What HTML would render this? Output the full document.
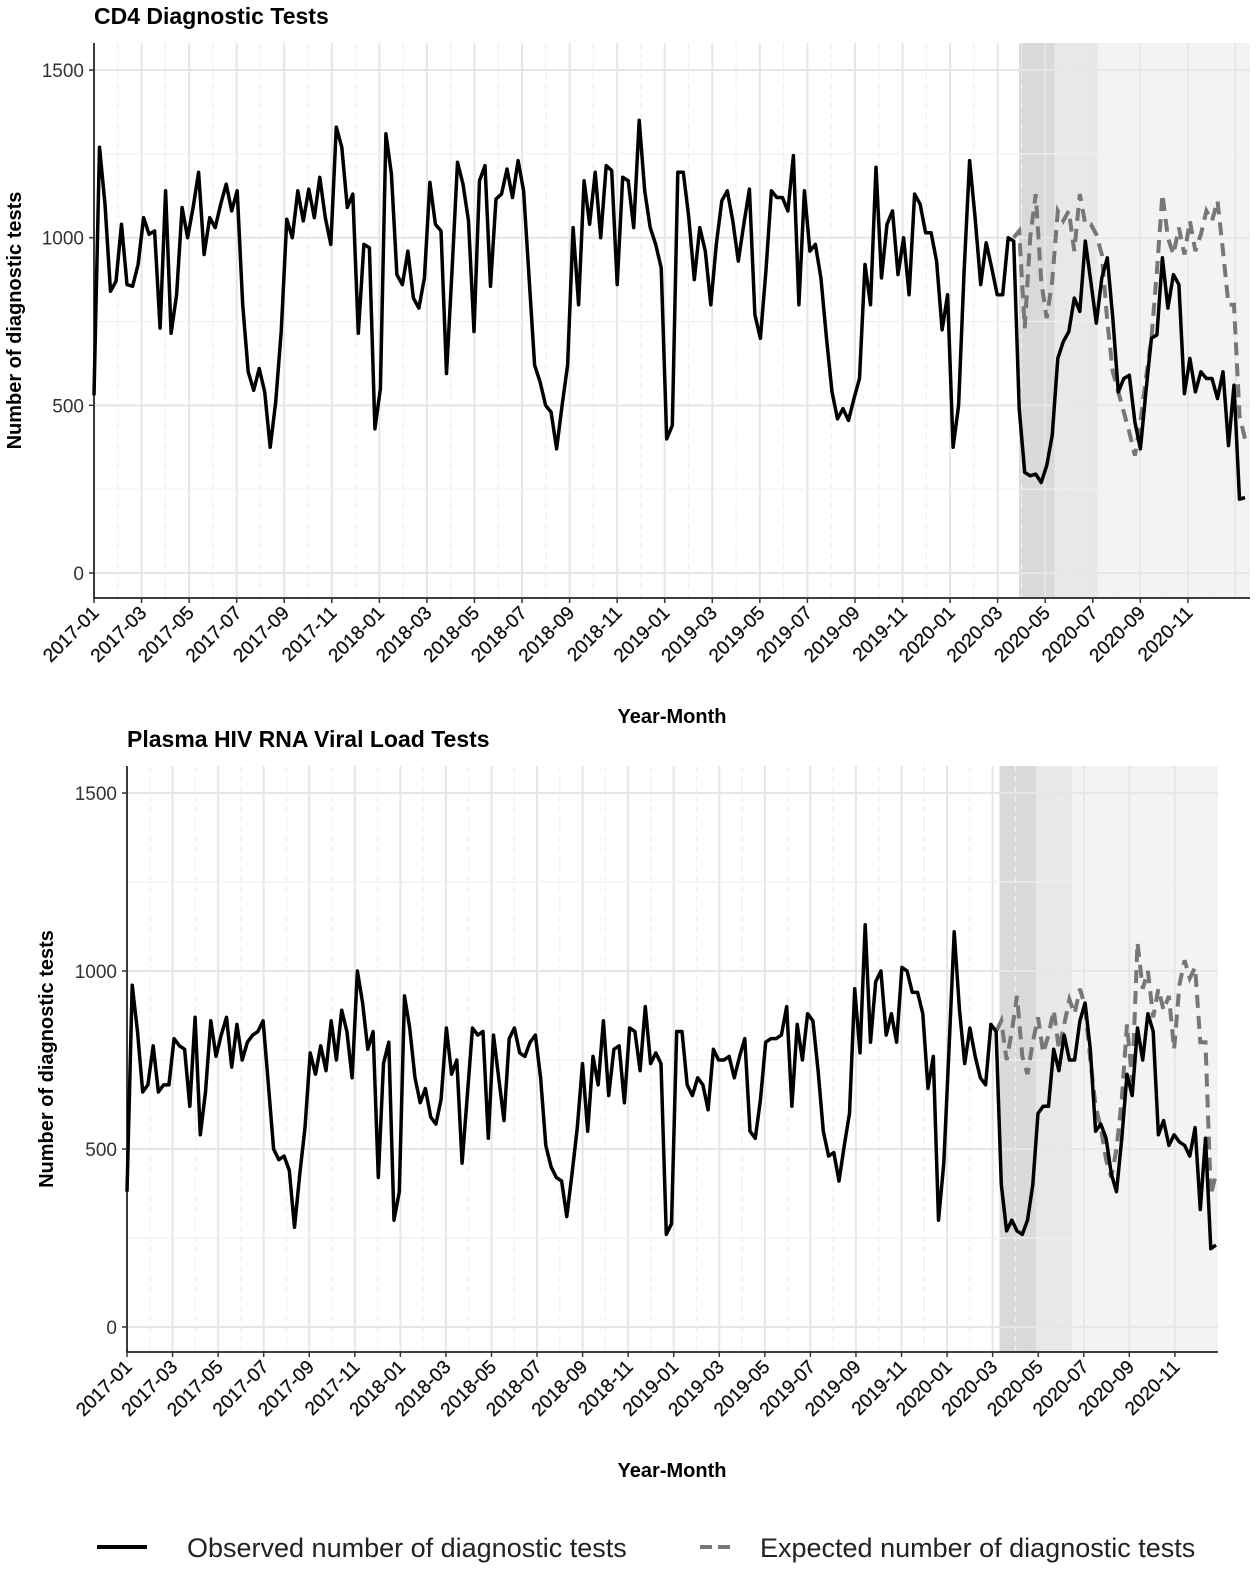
<!DOCTYPE html>
<html><head><meta charset="utf-8">
<style>
html,body{margin:0;padding:0;background:#fff;}
svg{display:block;font-family:"Liberation Sans",Arial,sans-serif;}
</style></head>
<body>
<svg id="chart" width="1258" height="1571" viewBox="0 0 1258 1571" xmlns="http://www.w3.org/2000/svg">
<g>
<line x1="97" y1="1547" x2="147" y2="1547" stroke="#000" stroke-width="4"/>
<text x="187" y="1557" font-size="27" fill="#222">Observed number of diagnostic tests</text>
<line x1="700" y1="1547" x2="730" y2="1547" stroke="#777" stroke-width="4" stroke-dasharray="12,6"/>
<text x="760" y="1557" font-size="27" fill="#222">Expected number of diagnostic tests</text>
</g>
</svg>
<script>
// ---- CD4 data (weekly) ----
const cd4Observed = [530,1270,1100,840,870,1040,860,855,920,1060,1010,1020,730,1140,715,830,1090,1000,1090,1195,950,1060,1030,1100,1160,1080,1140,800,600,545,610,540,375,510,720,1055,1000,1140,1050,1145,1060,1180,1060,980,1330,1270,1090,1130,715,980,970,430,550,1310,1190,890,860,960,820,790,880,1165,1040,1020,595,900,1225,1160,1050,720,1170,1215,855,1115,1130,1205,1120,1230,1140,880,620,570,500,480,370,500,620,1030,800,1170,1040,1195,1000,1215,1200,860,1180,1170,1030,1350,1140,1030,980,910,400,440,1195,1195,1060,875,1030,960,800,980,1110,1140,1050,930,1040,1145,770,700,900,1140,1120,1120,1080,1245,800,1140,960,980,880,700,540,460,490,455,520,580,920,800,1210,880,1040,1080,890,1000,830,1130,1100,1015,1015,930,725,830,375,500,900,1230,1060,860,985,910,830,830,1000,990,490,300,290,295,270,320,410,640,690,720,820,780,990,870,745,880,940,760,540,580,590,450,370,540,700,710,940,790,890,860,535,640,540,600,580,580,520,600,380,560,220,225];
const cd4Expected = [1000,1020,730,1000,1130,870,760,870,1080,1050,1080,960,1130,1040,1040,1010,950,750,600,540,480,420,350,450,580,700,900,1130,1000,950,1030,950,1050,960,1010,1080,1050,1110,960,800,800,470,400];
// ---- Viral load data (weekly) ----
const vlObserved = [380,960,830,660,680,790,660,680,680,810,790,780,620,870,540,660,860,760,820,870,730,850,750,800,820,830,860,680,500,470,480,440,280,430,560,770,710,790,720,860,750,890,830,700,1000,910,780,830,420,740,800,300,380,930,840,700,630,670,590,570,640,840,710,750,460,650,840,820,830,530,820,700,580,810,840,770,760,800,820,700,510,450,420,410,310,430,560,740,550,760,680,860,650,780,790,630,840,830,720,900,740,770,740,260,290,830,830,680,650,700,680,610,780,750,750,760,700,760,810,550,530,640,800,810,810,820,900,620,850,750,880,860,720,550,480,490,410,510,600,950,770,1130,800,970,1000,820,880,800,1010,1000,940,940,880,670,760,300,460,780,1110,890,740,840,760,700,680,850,830,400,270,300,270,260,300,400,600,620,620,780,720,820,750,750,860,910,780,550,570,530,430,380,530,710,650,840,750,880,830,540,580,510,540,520,510,480,560,330,530,220,230];
const vlExpected = [830,860,750,830,930,760,710,800,870,770,820,890,780,850,920,880,950,900,750,620,560,470,420,500,640,850,690,1080,950,1000,870,950,890,930,780,960,1030,980,1010,800,800,370,430];
const monthTickLabels = ["2017-01","2017-03","2017-05","2017-07","2017-09","2017-11","2018-01","2018-03","2018-05","2018-07","2018-09","2018-11","2019-01","2019-03","2019-05","2019-07","2019-09","2019-11","2020-01","2020-03","2020-05","2020-07","2020-09","2020-11"];
const yTicks = [0,500,1000,1500];
// shaded periods in months since 2017-01
const cd4Shades = [[38.9,40.4,"#d9d9d9"],[40.4,42.2,"#e8e8e8"],[42.2,49,"#f3f3f3"]];
const vlShades = [[38.3,39.9,"#d9d9d9"],[39.9,41.5,"#e8e8e8"],[41.5,48.1,"#f3f3f3"]];

const NS="http://www.w3.org/2000/svg";
const svg=document.getElementById('chart');
function mk(tag,attrs,parent){const e=document.createElementNS(NS,tag);for(const k in attrs)e.setAttribute(k,attrs[k]);(parent||svg).appendChild(e);return e;}

function drawPanel(cfg){
  const g=mk('g',{});
  
  
  const xM=m=>cfg.x0+m*cfg.pxMonth;
  const n=cfg.obs.length;
  const xi=i=>cfg.x0+i*(cfg.xEnd-cfg.x0)/(n-1);
  const y=v=>cfg.y0-v*cfg.pxUnit;
  cfg.shades.forEach(s=>{
    const r=mk('rect',{x:xM(s[0]),y:cfg.top,width:Math.min(xM(s[1]),cfg.right)-xM(s[0]),height:cfg.bottom-cfg.top,fill:s[2]},g);
    
    
  });
  for(let m=0;m<=48;m++){
    const X=xM(m); if(X>cfg.right)break;
    const l=mk('line',{x1:X,x2:X,y1:cfg.top,y2:cfg.bottom,stroke:m%2===0?'#e6e6e6':'#efefef','stroke-width':m%2===0?2:1.2,'stroke-dasharray':m%2===0?'':'6,4'},g);
    
    
  }
  for(let v=0;v<=1500;v+=250){
    const l=mk('line',{x1:cfg.x0,x2:cfg.right,y1:y(v),y2:y(v),stroke:v%500===0?'#e6e6e6':'#f0f0f0','stroke-width':v%500===0?2:1.2},g);
    
    
  }
  const off=n-cfg.exp.length;
  const pe=mk('path',{d:cfg.exp.map((v,i)=>(i?'L':'M')+xi(i+off).toFixed(1)+','+y(v).toFixed(1)).join(''),fill:'none',stroke:'#777','stroke-width':4,'stroke-dasharray':'13,8'},g);
  
  
  const po=mk('path',{d:cfg.obs.map((v,i)=>(i?'L':'M')+xi(i).toFixed(1)+','+y(v).toFixed(1)).join(''),fill:'none',stroke:'#000','stroke-width':3.5,'stroke-linejoin':'round'},g);
  
  
  const ax=mk('path',{d:`M${cfg.x0},${cfg.top}V${cfg.bottom}H${cfg.right}`,fill:'none',stroke:'#000','stroke-width':1.5},g);
  
  
  yTicks.forEach(v=>{
    const t=mk('text',{x:cfg.x0-10,y:y(v)+7,'text-anchor':'end','font-size':19,fill:'#333'},g);
    t.textContent=v;
    
    
    mk('line',{x1:cfg.x0-5,x2:cfg.x0,y1:y(v),y2:y(v),stroke:'#333','stroke-width':1.5},g);
  });
  monthTickLabels.forEach((lab,k)=>{
    const X=xM(k*2);
    mk('line',{x1:X,x2:X,y1:cfg.bottom,y2:cfg.bottom+5,stroke:'#333','stroke-width':1.5},g);
    const t=mk('text',{x:X+6,y:cfg.bottom+16,'text-anchor':'end','font-size':19,fill:'#111','stroke':'#111','stroke-width':0.3,transform:`rotate(-45 ${X+6} ${cfg.bottom+16})`},g);
    t.textContent=lab;
    
    
  });
  const tt=mk('text',{x:cfg.titleX,y:cfg.titleY,'font-size':23,'font-weight':'bold',fill:'#000'},g);
  tt.textContent=cfg.title;
  
  
  const yt=mk('text',{x:0,y:0,'font-size':20,'font-weight':'bold','text-anchor':'middle',transform:`translate(${cfg.yTitleX} ${(cfg.top+cfg.bottom)/2}) rotate(-90)`},g);
  yt.textContent='Number of diagnostic tests';
  
  
  const xt=mk('text',{x:672,y:cfg.xTitleY,'font-size':20,'font-weight':'bold','text-anchor':'middle'},g);
  xt.textContent='Year-Month';
  
  
}
drawPanel({name:'cd4-panel',title:'CD4 Diagnostic Tests',obs:cd4Observed,exp:cd4Expected,shades:cd4Shades,
  x0:94,xEnd:1245,right:1250,pxMonth:23.78,y0:573,pxUnit:0.3353,top:43,bottom:598,titleX:94,titleY:24,yTitleX:21,xTitleY:723});
drawPanel({name:'viral-load-panel',title:'Plasma HIV RNA Viral Load Tests',obs:vlObserved,exp:vlExpected,shades:vlShades,
  x0:127,xEnd:1216,right:1218,pxMonth:22.78,y0:1327,pxUnit:0.356,top:766,bottom:1352,titleX:127,titleY:747,yTitleX:53,xTitleY:1477});
</script>
</body></html>
